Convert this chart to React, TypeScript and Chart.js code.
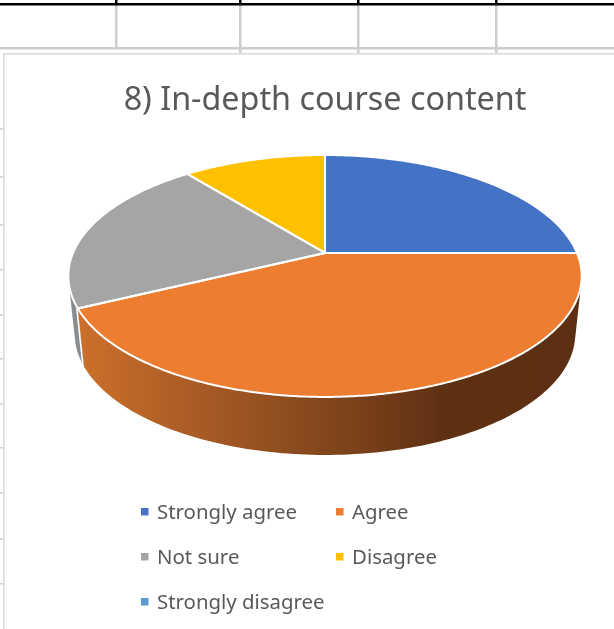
import React, { useEffect, useRef } from "react";
import { Chart, registerables } from "chart.js";

Chart.register(...registerables);

const TITLE = "8) In-depth course content";
const categories = ["Strongly agree", "Agree", "Not sure", "Disagree", "Strongly disagree"];
const shares = [25, 42.8, 21.4, 10.8, 0];
const colors = ["#4472C4", "#ED7D31", "#A5A5A5", "#FFC000", "#5B9BD5"];
const sideColors = ["#2F5597", "#ED7D31", "#8A8D90", "#BF9000", "#41719C"];
const legendColumns = [141, 336];
const legendRows = [519, 564, 609];
const gridVerticals = [115, 239, 357, 495];
const gridTicksLeft = [128, 176, 224, 269, 314, 358, 403, 447, 492, 538, 583];

const TILT = 0.4627;
const PERSPECTIVE = 0.19;
const DEPTH = 58;
const BOTTOM_SCALE = 0.975;

function project(arc: any, angle: number, lower: boolean) {
  const u = Math.cos(angle);
  const v = Math.sin(angle);
  const w = 1 - PERSPECTIVE * v;
  const s = lower ? BOTTOM_SCALE : 1;
  return {
    x: arc.x + (s * arc.outerRadius * u) / w,
    y: arc.y + (arc.outerRadius * TILT * v) / w + (lower ? DEPTH : 0),
  };
}

function traceArc(ctx: CanvasRenderingContext2D, arc: any, a: number, b: number, lower: boolean) {
  const steps = Math.max(2, Math.ceil(Math.abs(b - a) / 0.01));
  for (let i = 0; i <= steps; i++) {
    const p = project(arc, a + ((b - a) * i) / steps, lower);
    ctx.lineTo(p.x, p.y);
  }
}

const pie3d = {
  id: "pie3d",
  beforeDraw(chart: any) {
    const ctx: CanvasRenderingContext2D = chart.ctx;
    ctx.save();
    ctx.fillStyle = "#ffffff";
    ctx.fillRect(0, 0, 614, 629);
    ctx.fillStyle = "#CDCDCD";
    gridVerticals.forEach((x, i) => ctx.fillRect(x, 5, 2.5, i === 0 ? 42 : 48));
    ctx.fillRect(0, 47, 614, 2.5);
    ctx.fillStyle = "#D0D0D0";
    gridTicksLeft.forEach((y) => ctx.fillRect(0, y, 3, 1.5));
    ctx.fillStyle = "#DADADA";
    ctx.fillRect(3, 53, 611, 1.5);
    ctx.fillRect(3, 53, 1.5, 576);
    ctx.fillStyle = "#000000";
    ctx.fillRect(0, 3, 614, 2.5);
    gridVerticals.forEach((x) => ctx.fillRect(x, 0, 2.5, 4));
    ctx.restore();
  },
  beforeDatasetsDraw(chart: any) {
    const ctx: CanvasRenderingContext2D = chart.ctx;
    const arcs = chart.getDatasetMeta(0).data;
    ctx.save();
    const g = ctx.createLinearGradient(80, 0, 581, 0);
    g.addColorStop(0, "#CB702C");
    g.addColorStop(0.25, "#A65A24");
    g.addColorStop(0.55, "#7A411A");
    g.addColorStop(0.72, "#5F3113");
    g.addColorStop(1, "#5C2F12");
    [2, 3, 0, 1].forEach((i) => {
      const arc = arcs[i];
      if (arc.endAngle - arc.startAngle <= 0) return;
      const steps = Math.ceil((arc.endAngle - arc.startAngle) / 0.02);
      ctx.beginPath();
      for (let s = 0; s < steps; s++) {
        const a = arc.startAngle + ((arc.endAngle - arc.startAngle) * s) / steps;
        const b = arc.startAngle + ((arc.endAngle - arc.startAngle) * (s + 1)) / steps;
        const quad = [project(arc, a, false), project(arc, b, false), project(arc, b, true), project(arc, a, true)];
        let area = 0;
        quad.forEach((p, k) => {
          const q = quad[(k + 1) % 4];
          area += p.x * q.y - q.x * p.y;
        });
        if (area < 0) quad.reverse();
        quad.forEach((p, k) => (k === 0 ? ctx.moveTo(p.x, p.y) : ctx.lineTo(p.x, p.y)));
        ctx.closePath();
      }
      ctx.fillStyle = i === 1 ? g : sideColors[i];
      ctx.fill("nonzero");
    });
    const orange = arcs[1];
    const edgeTop = project(orange, orange.endAngle, false);
    const edgeBottom = project(orange, orange.endAngle, true);
    ctx.beginPath();
    ctx.moveTo(edgeTop.x - 1, edgeTop.y);
    ctx.lineTo(edgeBottom.x - 1, edgeBottom.y);
    ctx.strokeStyle = "#ffffff";
    ctx.lineWidth = 1.5;
    ctx.stroke();
    arcs.forEach((arc: any, i: number) => {
      if (arc.endAngle - arc.startAngle <= 0) return;
      ctx.beginPath();
      ctx.moveTo(arc.x, arc.y);
      traceArc(ctx, arc, arc.startAngle, arc.endAngle, false);
      ctx.closePath();
      ctx.fillStyle = colors[i];
      ctx.fill();
    });
    arcs.forEach((arc: any) => {
      if (arc.endAngle - arc.startAngle <= 0) return;
      ctx.beginPath();
      ctx.moveTo(arc.x, arc.y);
      traceArc(ctx, arc, arc.startAngle, arc.endAngle, false);
      ctx.closePath();
      ctx.strokeStyle = "#ffffff";
      ctx.lineWidth = 2;
      ctx.lineJoin = "round";
      ctx.stroke();
    });
    ctx.restore();
    return false;
  },
  afterDraw(chart: any) {
    const ctx: CanvasRenderingContext2D = chart.ctx;
    ctx.save();
    ctx.font = '20.4px "Noto Sans"';
    ctx.textBaseline = "alphabetic";
    ctx.textAlign = "left";
    categories.forEach((label, i) => {
      const x = legendColumns[i % 2];
      const y = legendRows[Math.floor(i / 2)];
      ctx.fillStyle = colors[i];
      ctx.fillRect(x, y - 11, 7.5, 7.5);
      ctx.fillStyle = "#595959";
      ctx.fillText(label, x + 16, y);
    });
    ctx.restore();
  },
};

export default function App() {
  const ref = useRef<HTMLCanvasElement>(null);
  useEffect(() => {
    const chart = new Chart(ref.current as HTMLCanvasElement, {
      type: "pie",
      data: {
        labels: categories,
        datasets: [{ data: shares, backgroundColor: colors, radius: 252 }],
      },
      options: {
        animation: false,
        responsive: false,
        layout: { padding: { top: 81, left: 60, right: 24, bottom: 242.8 } },
        plugins: {
          legend: { display: false },
          tooltip: { enabled: false },
          title: {
            display: true,
            text: TITLE,
            fullSize: false,
            color: "#595959",
            padding: 0,
            font: { family: '"Noto Sans"', size: 32.3, weight: "normal", lineHeight: 1.2 },
          },
        },
      },
      plugins: [pie3d],
    } as any);
    return () => chart.destroy();
  }, []);
  return (
    <div style={{ position: "absolute", left: 0, top: 0, width: 614, height: 629, overflow: "hidden" }}>
      <canvas ref={ref} width={614} height={629} style={{ display: "block" }} />
    </div>
  );
}
